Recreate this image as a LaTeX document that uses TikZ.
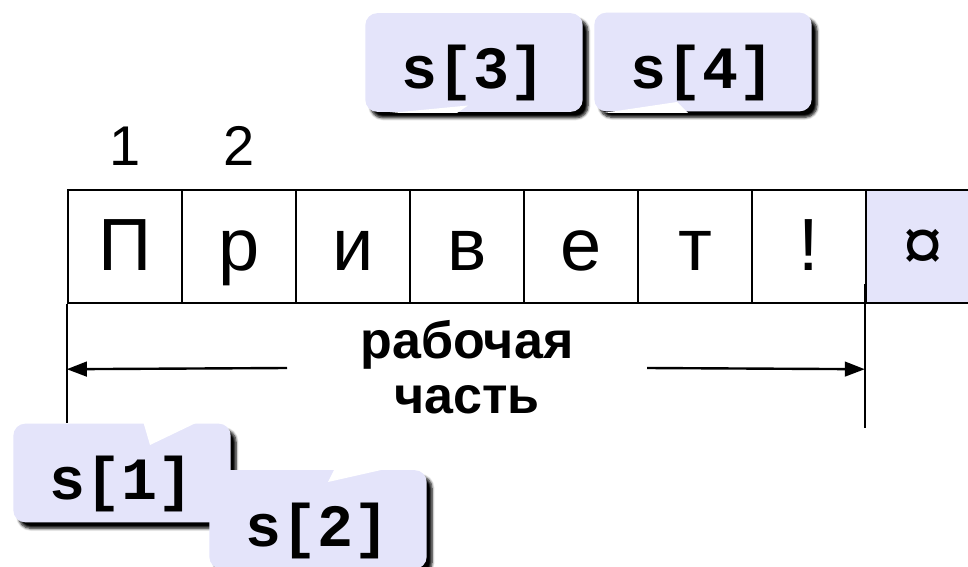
\documentclass[tikz,border=0pt]{standalone}
\usepackage{fontspec}
\setmainfont{Liberation Sans}
\newfontfamily\codefont{Liberation Mono}
\usetikzlibrary{positioning}
\usetikzlibrary{arrows.meta}
\usetikzlibrary{shadows.blur}
\definecolor{boxfill}{RGB}{228,228,250}
\tikzset{%
  mycell/.style={draw=black, line width=1.8pt, minimum width=85.5pt, minimum height=84.75pt, inner sep=0pt, text height=39.75pt, text depth=4.5pt, font=\fontsize{55.5}{60}\selectfont},
  myindex/.style={font=\fontsize{42}{48}\selectfont},
  myword/.style={font=\fontsize{39}{44}\selectfont\bfseries},
  mycallout/.style={fill=boxfill, rounded corners=9pt, minimum width=163pt, minimum height=74pt, inner sep=0pt, text height=42pt, text depth=2.25pt, font=\fontsize{45}{50}\selectfont\codefont\bfseries, blur shadow={shadow xshift=4pt, shadow yshift=-4.5pt, shadow blur radius=2pt, shadow blur steps=6, shadow opacity=100}},
  mynotch/.style={fill=white},
  myarrow/.style={-{Triangle[length=15pt, width=11pt]}, line width=1.8pt}
}
\begin{document}
\begin{tikzpicture}[x=0.75pt, y=-0.75pt]
  \useasboundingbox (0,0) rectangle (968,567);
  \clip (0,0) rectangle (968,567);
  % cells
  \foreach \ch [count=\i] in {П,р,и,в,е,т,!}
    \node[mycell] (c\i) at ({11+114*\i},246.5) {\ch};
  \node[mycell, fill=boxfill] (c8) at (923,246.5) {¤};
  \node[myindex, above=17.25pt, anchor=base] (n1) at (c1.north) {1};
  \node[myindex, above=17.25pt, anchor=base] (n2) at (c2.north) {2};
  % extent of the working part
  \draw[line width=1.8pt] (c1.south west) -- ++(0,119);
  \draw[line width=1.8pt] ([yshift=15pt]c8.south west) -- ++(0,144);
  \node[myword, anchor=base] (work1) at (467,358) {рабочая};
  \node[myword, anchor=base] (work2) at (467,413) {часть};
  \coordinate [below=48.75pt] (lend) at (c1.south west);
  \coordinate [below=48.75pt] (rend) at (c8.south west);
  \coordinate (lstart) at (287,368);
  \coordinate (rstart) at (647,368);
  \draw[myarrow] (lstart) -- (lend);
  \draw[myarrow] (rstart) -- (rend);
  % callouts
  \node[mycallout] (s1) at (122,473) {s[1]};
  \fill[mynotch] (143,421) -- (150,445) -- (200,421) -- cycle;
  \node[mycallout] (s2) at (318,519.5) {s[2]};
  \fill[mynotch] (335,468) -- (328,482) -- (390,468) -- cycle;
  \node[mycallout] (s3) at (474,62.5) {s[3]};
  \fill[mynotch] (390,113) -- (468,105.5) -- (457,113) -- cycle;
  \node[mycallout] (s4) at (703,62) {s[4]};
  \fill[mynotch] (603,113) -- (677,102) -- (688,113) -- cycle;
\end{tikzpicture}
\end{document}
